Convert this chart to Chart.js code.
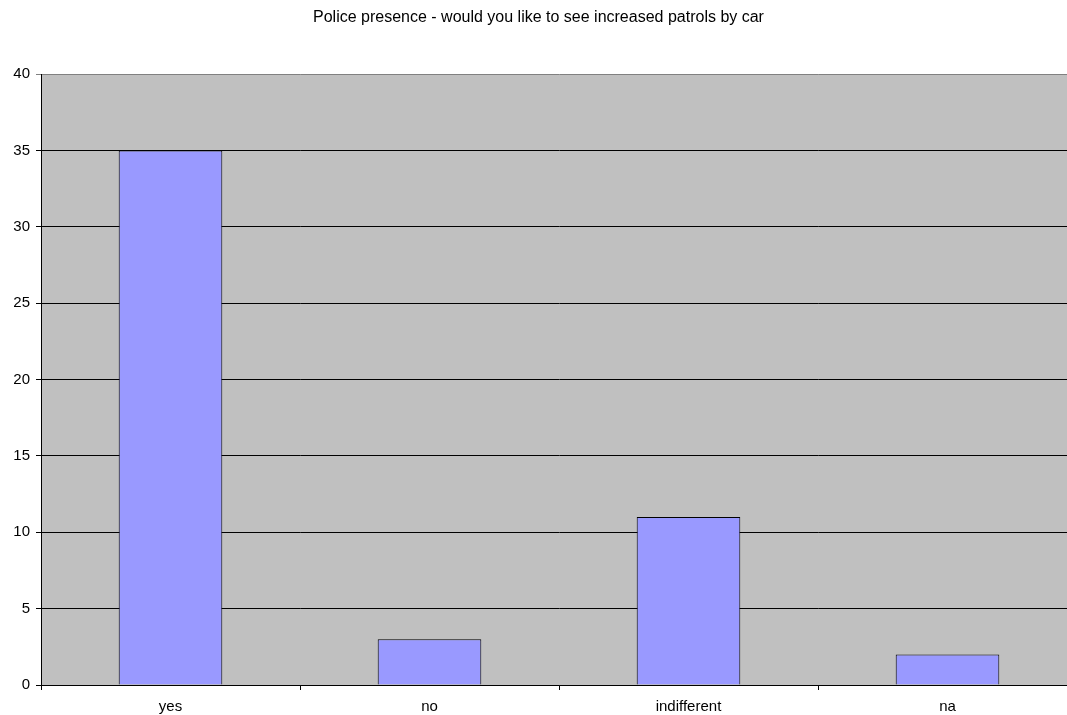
<!DOCTYPE html>
<html>
<head>
<meta charset="utf-8">
<script src="https://cdn.jsdelivr.net/npm/chart.js@4.4.1/dist/chart.umd.min.js"></script>
<style>
  html, body { margin: 0; padding: 0; background: #fff; overflow: hidden; }
  #wrap { width: 1077px; height: 715px; }
</style>
</head>
<body>
<div id="wrap"><canvas id="barChart"></canvas></div>
<script>
const categories = ["yes", "no", "indifferent", "na"];
const answers = [35, 3, 11, 2];
const yTicks = [0, 5, 10, 15, 20, 25, 30, 35, 40];

// grey plot background like the old spreadsheet charts
const plotBackground = {
  id: "plotBackground",
  beforeDraw(chart) {
    const a = chart.chartArea;
    const ctx = chart.ctx;
    ctx.save();
    ctx.fillStyle = "#c0c0c0";
    ctx.fillRect(a.left, a.top, a.right - a.left, a.bottom - a.top);
    ctx.restore();
  }
};

Chart.defaults.font.family = "'Liberation Sans', Arial, sans-serif";
Chart.defaults.color = "#000";

const ctx = document.getElementById("barChart");
new Chart(ctx, {
  type: "bar",
  data: {
    labels: categories,
    datasets: [{
      label: "answers",
      data: answers,
      backgroundColor: "#9999ff",
      borderColor: "#000",
      borderWidth: 1,
      barPercentage: 0.4,
      categoryPercentage: 1.0
    }]
  },
  options: {
    responsive: true,
    maintainAspectRatio: false,
    animation: false,
    layout: { padding: 0 },
    plugins: {
      legend: { display: false },
      tooltip: { enabled: false },
      title: {
        display: true,
        text: "Police presence - would you like to see increased patrols by car",
        font: { size: 16, weight: "normal" },
        color: "#000",
        padding: { top: 8, bottom: 47 }
      }
    },
    scales: {
      x: {
        offset: true,
        grid: {
          offset: true,
          drawOnChartArea: false,
          drawTicks: true,
          tickLength: 5,
          color: "#000"
        },
        border: { color: "#000", width: 1 },
        ticks: { font: { size: 15 }, padding: 8 },
        afterFit: (scale) => { scale.height = 30; }
      },
      y: {
        min: 0,
        max: 40,
        afterBuildTicks: (scale) => { scale.ticks = yTicks.map(v => ({ value: v })); },
        afterFit: (scale) => { scale.width = 41; },
        grid: {
          color: (c) => (c.tick && c.tick.value === 40 ? "#808080" : "#000"),
          tickLength: 5
        },
        border: { color: "#000", width: 1 },
        ticks: { font: { size: 15 }, padding: 6 }
      }
    }
  },
  plugins: [plotBackground]
});
</script>
</body>
</html>
